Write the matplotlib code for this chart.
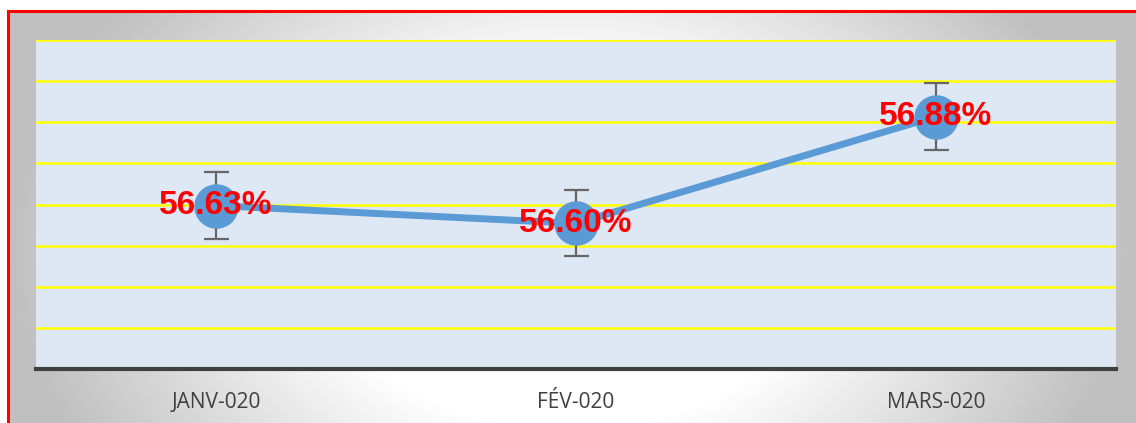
import numpy as np
import matplotlib
matplotlib.use("Agg")
import matplotlib.pyplot as plt
from matplotlib.lines import Line2D

# data
months = ["JANV-020", "FÉV-020", "MARS-020"]
rates = [56.63, 56.58, 56.88]
errors = [0.093, 0.093, 0.093]
labels = ["56.63%", "56.60%", "56.88%"]

W, H = 1136, 423
fig = plt.figure(figsize=(W / 100, H / 100), dpi=100)
fig.patch.set_facecolor("white")

# background: grey radial gradient inside the red frame
bg = fig.add_axes([0, 0, 1, 1])
bg.set_xlim(0, W)
bg.set_ylim(H, 0)
bg.axis("off")
xx, yy = np.meshgrid(np.arange(7, W), np.arange(10, H))
r = np.sqrt(((xx - 570) / 560.0) ** 2 + ((yy - 250) / 400.0) ** 2)
t = np.clip((r - 0.45) / 0.55, 0, 1)
grey = 255 - 63 * t
img = np.dstack([grey, grey, grey]) / 255.0
bg.imshow(img, extent=[7, W, H, 10], aspect="auto", interpolation="bilinear")
bg.add_line(Line2D([8, W], [11, 11], color="#FF0000", lw=2.2))
bg.add_line(Line2D([8, 8], [11, H], color="#FF0000", lw=2.2))

# plot area
ax = fig.add_axes([36 / W, (H - 369) / H, 1080 / W, 329 / H])
ax.set_facecolor("#DEE8F4")
ymin, ymax = 56.171, 57.095
ax.set_ylim(ymin, ymax)
ax.set_xlim(-0.5, 2.5)
ax.set_yticks(np.linspace(ymin, ymax, 9))
ax.yaxis.grid(True, color="#FFFF00", lw=1.8)
ax.set_axisbelow(True)
ax.tick_params(axis="y", left=False, labelleft=False)
ax.tick_params(axis="x", bottom=False, pad=13, labelsize=15, labelcolor="#404040")
for s in ["top", "left", "right"]:
    ax.spines[s].set_visible(False)
ax.spines["bottom"].set_color("#404040")
ax.spines["bottom"].set_linewidth(3)

x = np.arange(len(months))
ax.set_xticks(x)
ax.set_xticklabels(months, fontfamily="Open Sans")

ax.errorbar(x, rates, yerr=errors, fmt="none", ecolor="#666666",
            elinewidth=1.6, capsize=9, capthick=1.6, zorder=2)
ax.plot(x, rates, color="#5B9BD5", lw=5, marker="o", markersize=31,
        solid_capstyle="round", zorder=3)

for xi, yi, lab in zip(x, rates, labels):
    ax.text(xi, yi, lab, color="#FF0000", fontsize=24, fontweight="bold",
            fontfamily="Liberation Sans", ha="center", va="center", zorder=4)

fig.savefig("out.png", dpi=100)
